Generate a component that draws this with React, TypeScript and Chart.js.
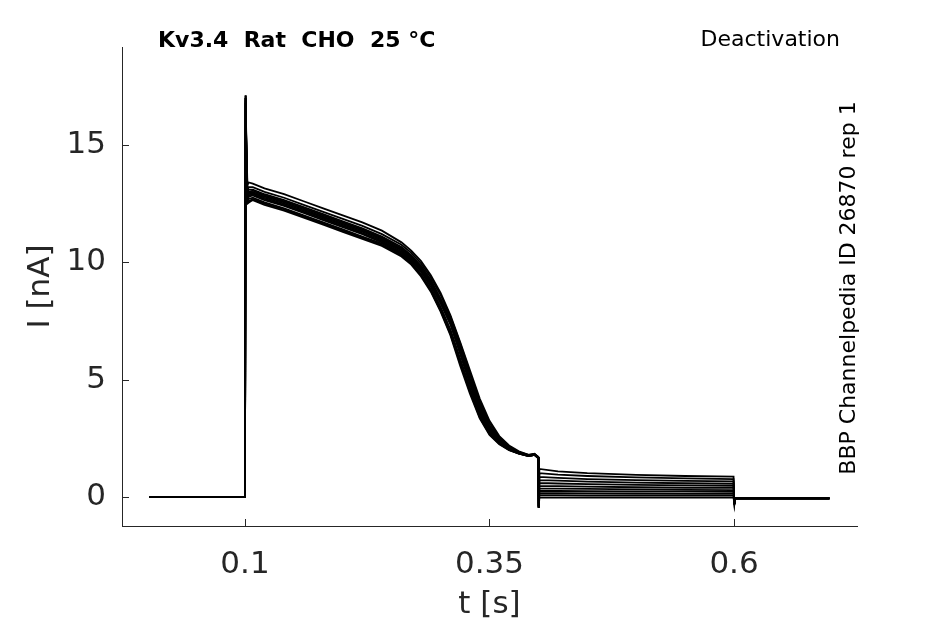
import React, { useEffect, useRef } from 'react';
import { Chart, registerables } from 'chart.js';

Chart.register(...registerables);

// baseline before the step (shared by all sweeps)
const baseTime = [0.0025, 0.1];
const baseCurrent = [0, 0];

// activation phase, one row per sweep
const actTime = [
  0.1007, 0.1014, 0.1025, 0.104, 0.108, 0.12, 0.14, 0.16, 0.18, 0.2, 0.22, 0.24, 0.26, 0.27,
  0.28, 0.29, 0.3, 0.31, 0.32, 0.33, 0.34, 0.35, 0.36, 0.37, 0.38, 0.39, 0.396, 0.3998,
];
const actSweeps = [
  [17.1, 15.2, 13.3, 13.4, 13.35, 13.15, 12.9, 12.6, 12.3, 12.0, 11.7, 11.35, 10.85, 10.5, 10.05, 9.45, 8.7, 7.75, 6.6, 5.4, 4.2, 3.25, 2.6, 2.2, 1.95, 1.8, 1.85, 1.7],
  [17.1, 15.0, 13.1, 13.2, 13.2, 13.0, 12.75, 12.45, 12.15, 11.85, 11.55, 11.2, 10.75, 10.4, 9.95, 9.35, 8.6, 7.7, 6.55, 5.3, 4.1, 3.15, 2.55, 2.15, 1.92, 1.8, 1.84, 1.72],
  [17.0, 14.9, 13.0, 13.1, 13.1, 12.9, 12.65, 12.35, 12.05, 11.75, 11.45, 11.1, 10.65, 10.3, 9.85, 9.25, 8.45, 7.6, 6.45, 5.2, 4.0, 3.05, 2.5, 2.12, 1.9, 1.78, 1.83, 1.7],
  [17.1, 14.9, 12.9, 13.0, 13.05, 12.85, 12.6, 12.3, 12.0, 11.7, 11.4, 11.05, 10.6, 10.25, 9.8, 9.2, 8.4, 7.5, 6.3, 5.05, 3.9, 3.0, 2.48, 2.1, 1.9, 1.78, 1.82, 1.7],
  [16.9, 14.8, 12.8, 12.95, 13.0, 12.8, 12.55, 12.25, 11.95, 11.65, 11.35, 11.0, 10.55, 10.2, 9.75, 9.15, 8.35, 7.45, 6.2, 4.9, 3.75, 2.9, 2.4, 2.07, 1.88, 1.77, 1.82, 1.68],
  [17.0, 14.8, 12.8, 12.9, 12.95, 12.75, 12.5, 12.2, 11.9, 11.6, 11.3, 10.95, 10.5, 10.15, 9.7, 9.1, 8.3, 7.5, 6.3, 5.0, 3.8, 2.95, 2.45, 2.1, 1.9, 1.78, 1.82, 1.7],
  [17.0, 14.7, 12.7, 12.85, 12.9, 12.7, 12.45, 12.15, 11.85, 11.55, 11.25, 10.9, 10.45, 10.1, 9.65, 9.05, 8.25, 7.35, 6.1, 4.8, 3.65, 2.85, 2.38, 2.05, 1.87, 1.76, 1.8, 1.68],
  [16.9, 14.6, 12.65, 12.8, 12.85, 12.65, 12.4, 12.1, 11.8, 11.5, 11.2, 10.85, 10.4, 10.05, 9.6, 8.95, 8.1, 7.15, 5.9, 4.65, 3.55, 2.78, 2.33, 2.03, 1.86, 1.76, 1.8, 1.67],
  [17.0, 14.6, 12.6, 12.7, 12.75, 12.55, 12.3, 12.0, 11.7, 11.4, 11.1, 10.8, 10.35, 10.0, 9.5, 8.85, 8.0, 7.05, 5.8, 4.55, 3.45, 2.72, 2.3, 2.02, 1.86, 1.75, 1.8, 1.66],
  [16.8, 14.5, 12.55, 12.6, 12.7, 12.5, 12.25, 11.95, 11.65, 11.35, 11.05, 10.75, 10.3, 9.95, 9.45, 8.8, 7.95, 6.95, 5.7, 4.5, 3.4, 2.68, 2.27, 2.01, 1.85, 1.75, 1.8, 1.66],
  [16.8, 14.5, 12.5, 12.55, 12.65, 12.45, 12.2, 11.9, 11.6, 11.3, 11.0, 10.7, 10.25, 9.9, 9.4, 8.75, 7.9, 6.9, 5.6, 4.4, 3.35, 2.65, 2.25, 2.0, 1.85, 1.75, 1.8, 1.65],
];

// deactivation step, one row per sweep
const deactTime = [0.4003, 0.401, 0.42, 0.45, 0.5, 0.55, 0.5995];
const deactSweeps = [
  [-0.45, 1.2, 1.1, 1.02, 0.95, 0.9, 0.87],
  [-0.4, 1.02, 0.96, 0.9, 0.84, 0.8, 0.77],
  [-0.45, 0.86, 0.82, 0.77, 0.72, 0.69, 0.67],
  [-0.4, 0.72, 0.7, 0.66, 0.62, 0.59, 0.57],
  [-0.45, 0.6, 0.58, 0.55, 0.52, 0.5, 0.48],
  [-0.4, 0.48, 0.47, 0.45, 0.42, 0.4, 0.39],
  [-0.45, 0.37, 0.36, 0.35, 0.33, 0.31, 0.3],
  [-0.4, 0.27, 0.26, 0.25, 0.24, 0.23, 0.22],
  [-0.45, 0.17, 0.17, 0.16, 0.15, 0.14, 0.14],
  [-0.4, 0.08, 0.08, 0.07, 0.07, 0.06, 0.06],
  [-0.45, -0.02, -0.02, -0.02, -0.02, -0.02, -0.02],
];

// return to holding (shared)
const endTime = [0.6003, 0.601, 0.6975];
const endCurrent = [-0.3, -0.05, -0.05];

const xTicks = [0.1, 0.35, 0.6];
const yTicks = [0, 5, 10, 15];

const titleText = 'Kv3.4  Rat  CHO  25 °C';
const protocolText = 'Deactivation';
const sourceText = 'BBP Channelpedia ID 26870 rep 1';

const FONT = "'DejaVu Sans', sans-serif";
const AXIS = '#262626';

const pairs = (t: number[], v: number[]) => t.map((x, i) => ({ x, y: v[i] }));

const annotations = {
  id: 'annotations',
  afterDraw(chart: any) {
    const { ctx, scales, chartArea } = chart;
    ctx.save();
    // inward tick marks
    ctx.strokeStyle = AXIS;
    ctx.lineWidth = 1;
    ctx.beginPath();
    xTicks.forEach(v => {
      const px = Math.round(scales.x.getPixelForValue(v)) + 0.5;
      ctx.moveTo(px, chartArea.bottom);
      ctx.lineTo(px, chartArea.bottom - 7);
    });
    yTicks.forEach(v => {
      const py = Math.round(scales.y.getPixelForValue(v)) + 0.5;
      ctx.moveTo(chartArea.left, py);
      ctx.lineTo(chartArea.left + 7, py);
    });
    ctx.stroke();

    ctx.fillStyle = '#000';
    ctx.textBaseline = 'alphabetic';
    ctx.font = `bold 22px ${FONT}`;
    ctx.textAlign = 'left';
    ctx.fillText(titleText, 158, 47);
    ctx.font = `22px ${FONT}`;
    ctx.textAlign = 'right';
    ctx.fillText(protocolText, 840, 46);

    ctx.translate(849, 288);
    ctx.rotate(-Math.PI / 2);
    ctx.textAlign = 'center';
    ctx.textBaseline = 'middle';
    ctx.fillText(sourceText, 0, 0);
    ctx.restore();
  },
};

const App: React.FC = () => {
  const canvasRef = useRef<HTMLCanvasElement>(null);
  const chartRef = useRef<Chart | null>(null);

  useEffect(() => {
    if (!canvasRef.current) return;
    if (chartRef.current) chartRef.current.destroy();

    const datasets = actSweeps.map((act, i) => ({
      data: [
        ...pairs(baseTime, baseCurrent),
        ...pairs(actTime, act),
        ...pairs(deactTime, deactSweeps[i]),
        ...pairs(endTime, endCurrent),
      ],
      borderColor: '#000',
      borderWidth: 1.8,
      pointRadius: 0,
      tension: 0,
      fill: false,
    }));

    chartRef.current = new Chart(canvasRef.current, {
      type: 'line',
      data: { datasets },
      options: {
        animation: false,
        responsive: true,
        maintainAspectRatio: false,
        parsing: false as any,
        layout: { padding: { top: 47, right: 88, left: 0, bottom: 0 } },
        plugins: {
          legend: { display: false },
          tooltip: { enabled: false },
        },
        scales: {
          x: {
            type: 'linear',
            min: -0.0257,
            max: 0.7257,
            afterBuildTicks: (s: any) => { s.ticks = xTicks.map(value => ({ value })); },
            afterFit: (s: any) => { s.height = 98; },
            ticks: {
              color: AXIS,
              font: { family: FONT, size: 31 },
              padding: 20,
              maxRotation: 0,
              callback: (v: any) => String(v),
            },
            grid: { drawOnChartArea: false, drawTicks: false },
            border: { display: true, color: AXIS, width: 1 },
            title: {
              display: true,
              text: 't [s]',
              color: AXIS,
              font: { family: FONT, size: 31 },
              padding: { top: 0, bottom: 0 },
            },
          },
          y: {
            type: 'linear',
            min: -1.23,
            max: 19.17,
            afterBuildTicks: (s: any) => { s.ticks = yTicks.map(value => ({ value })); },
            afterFit: (s: any) => { s.width = 122; },
            ticks: {
              color: AXIS,
              font: { family: FONT, size: 31 },
              padding: 16,
              callback: (v: any) => String(v),
            },
            grid: { drawOnChartArea: false, drawTicks: false },
            border: { display: true, color: AXIS, width: 1 },
            title: {
              display: true,
              text: 'I [nA]',
              color: AXIS,
              font: { family: FONT, size: 31 },
              padding: { top: 22, bottom: 0 },
            },
          },
        },
      },
      plugins: [annotations],
    });

    return () => {
      if (chartRef.current) {
        chartRef.current.destroy();
        chartRef.current = null;
      }
    };
  }, []);

  return (
    <div style={{ position: 'absolute', left: 0, top: 0, width: 945, height: 624, background: '#fff' }}>
      <canvas ref={canvasRef}></canvas>
    </div>
  );
};

export default App;
